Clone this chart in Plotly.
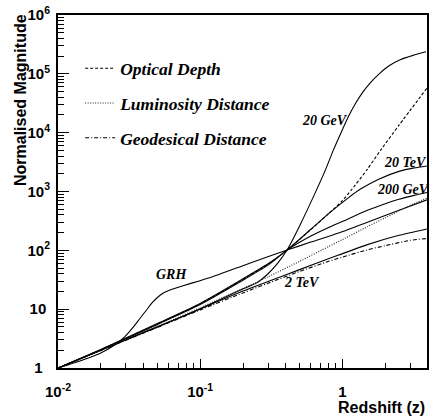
import math
import plotly.graph_objects as go

# ---------------- data ----------------
opt_z = [0.01, 0.02, 0.05, 0.1, 0.19, 0.3, 0.408, 0.6, 0.8, 1.0, 1.16, 1.5, 1.86, 2.5, 3.93]
opt_y = [1, 2.05, 5.6, 12.3, 30, 58, 101, 225, 420, 700, 1070, 2400, 5060, 13400, 57000]

lum_z = [0.01, 0.05, 0.1, 0.2, 0.3, 0.5, 0.8, 1.0, 1.5, 2.0, 3.0, 3.93]
lum_y = [1, 5.1, 10.6, 22.5, 35.5, 65, 116, 152, 253, 357, 585, 770]

geo_z = [0.01, 0.05, 0.1, 0.2, 0.3, 0.5, 0.8, 1.0, 1.5, 2.0, 3.0, 3.93]
geo_y = [1, 4.9, 9.7, 18.9, 27.6, 43.8, 65, 76.8, 102, 120, 148, 159]

gev20_z = [0.01, 0.02, 0.05, 0.1, 0.19, 0.25, 0.3, 0.35, 0.408, 0.5, 0.658, 0.760, 0.865,
           0.984, 1.101, 1.233, 1.380, 1.570, 1.815, 2.13, 2.55, 3.14, 3.87]
gev20_y = [1, 2.0, 5.0, 10.1, 21, 28, 40, 60, 101, 260, 1065, 2330, 5100,
           10300, 18600, 30900, 47500, 70300, 100000, 137000, 173000, 206000, 237000]

gev200_z = [0.01, 0.02, 0.05, 0.1, 0.19, 0.3, 0.408, 0.6, 0.8, 1.0, 1.5, 2.0, 2.5, 3.2, 3.93]
gev200_y = [1, 2.02, 5.5, 12.0, 29, 56, 101, 175, 245, 310, 480, 620, 740, 860, 960]

tev2_z = [0.01, 0.02, 0.05, 0.1, 0.2, 0.3, 0.5, 0.94, 1.5, 2.5, 3.93]
tev2_y = [1, 2, 5, 10.1, 20.3, 29.5, 47, 83, 125, 180, 231]

tev20_z = [0.01, 0.02, 0.05, 0.1, 0.19, 0.3, 0.408, 0.6, 0.8, 1.1, 1.34, 1.8, 2.5, 3.2, 3.93]
tev20_y = [1, 2.07, 5.7, 12.5, 30.5, 59, 101, 228, 420, 780, 1100, 1620, 2200, 2520, 2720]

grh_z = [0.01, 0.01425, 0.01966, 0.02504, 0.02942, 0.03346, 0.03745, 0.04193, 0.04616,
         0.05003, 0.05511, 0.06269, 0.07482, 0.0984, 0.1358, 0.2201, 0.408, 0.6, 0.94,
         1.5, 2.5, 3.93]
grh_y = [1, 1.315, 1.765, 2.46, 3.37, 4.79, 6.81, 9.69, 13.0,
         15.8, 18.86, 21.6, 24.8, 30.2, 38.9, 59.9, 101, 138, 197,
         300, 480, 720]

x_tickvals = [0.01, 0.1, 1]
x_ticktext = ["<b>10<sup>-2</sup></b>", "<b>10<sup>-1</sup></b>", "<b>1</b>"]
x_minor = [0.02, 0.03, 0.04, 0.05, 0.06, 0.07, 0.08, 0.09,
           0.2, 0.3, 0.4, 0.5, 0.6, 0.7, 0.8, 0.9, 2, 3]
y_tickvals = [1, 10, 100, 1e3, 1e4, 1e5, 1e6]
y_ticktext = ["<b>1</b>\u2002", "<b>10</b>\u2005", "<b>10<sup>2</sup></b>", "<b>10<sup>3</sup></b>",
              "<b>10<sup>4</sup></b>", "<b>10<sup>5</sup></b>", "<b>10<sup>6</sup></b>"]
y_minor = [m * 10 ** d for d in range(6) for m in range(2, 10)]

curve_labels = [
    ("20 GeV", 0.760, 15800),
    ("20 TeV", 2.76, 3065),
    ("200 GeV", 2.67, 1065),
    ("2 TeV", 0.516, 27.9),
    ("GRH", 0.0627, 38.2),
]

# ---------------- figure ----------------
fig = go.Figure()
serif = "Liberation Serif, Times New Roman, serif"
sans = "Liberation Sans, Arial, sans-serif"

def add(z, y, dash="solid", name=None, legend=False, color="black", width=1.1):
    fig.add_trace(go.Scatter(
        x=z, y=y, mode="lines", name=name, showlegend=legend,
        legendgroup=name if legend else None,
        line=dict(color=color, width=width, dash=dash, shape="spline", smoothing=0.6),
        hoverinfo="skip"))

add(gev20_z, gev20_y)
add(gev200_z, gev200_y)
add(tev2_z, tev2_y)
add(tev20_z, tev20_y)
add(grh_z, grh_y)
add(opt_z, opt_y, dash="3px,2px", name="Optical Depth", legend=True)
add(lum_z, lum_y, dash="1px,1.5px", name="Luminosity Distance", legend=True, color="#222")
add(geo_z, geo_y, dash="4px,2px,1px,2px", name="Geodesical Distance", legend=True)

for txt, zx, yy in curve_labels:
    fig.add_annotation(x=math.log10(zx), y=math.log10(yy), xref="x", yref="y",
                       text="<b><i>%s</i></b>" % txt, showarrow=False,
                       font=dict(family=serif, size=14, color="black"))

# axis titles (ROOT style: aligned to the axis end)
fig.add_annotation(x=1, y=0, xref="paper", yref="paper", xanchor="right", yanchor="top",
                   yshift=-29, text="<b>Redshift (z)</b>", showarrow=False,
                   font=dict(family=sans, size=16, color="black"))
fig.add_annotation(x=0, y=1, xref="paper", yref="paper", xanchor="center", yanchor="top",
                   xshift=-38, yshift=3, textangle=-90, text="<b>Normalised Magnitude</b>",
                   showarrow=False, font=dict(family=sans, size=16, color="black"))

fig.update_layout(
    width=431, height=419,
    margin=dict(l=58, r=2, t=15, b=51),
    paper_bgcolor="white", plot_bgcolor="white",
    showlegend=True,
    legend=dict(x=0.06, y=0.9, xanchor="left", yanchor="top",
                bgcolor="rgba(0,0,0,0)", traceorder="grouped", tracegroupgap=9,
                font=dict(family=serif, size=17.5, color="black", weight="bold", style="italic"),
                itemwidth=30),
    font=dict(family=sans, color="black"),
)

fig.update_xaxes(
    type="log", range=[-2, 0.595],
    tickvals=x_tickvals, ticktext=x_ticktext,
    ticks="inside", ticklen=9, tickwidth=1, tickcolor="black",
    minor=dict(tickvals=x_minor, ticks="inside", ticklen=5, tickwidth=1,
               tickcolor="black", showgrid=False),
    showgrid=False, zeroline=False,
    showline=True, linecolor="black", linewidth=2, mirror=True,
    tickfont=dict(size=15, family=sans),
    ticklabelstandoff=9,
)
fig.update_yaxes(
    type="log", range=[0, 6],
    tickvals=y_tickvals, ticktext=y_ticktext,
    ticks="inside", ticklen=11, tickwidth=1, tickcolor="black",
    minor=dict(tickvals=y_minor, ticks="inside", ticklen=6, tickwidth=1,
               tickcolor="black", showgrid=False),
    showgrid=False, zeroline=False,
    showline=True, linecolor="black", linewidth=2, mirror=True,
    tickfont=dict(size=15, family=sans),
    ticklabelstandoff=3,
)

fig.write_html("out.html", config={"displayModeBar": False},
               post_script="document.body.style.margin='0';document.body.style.overflow='hidden';")
